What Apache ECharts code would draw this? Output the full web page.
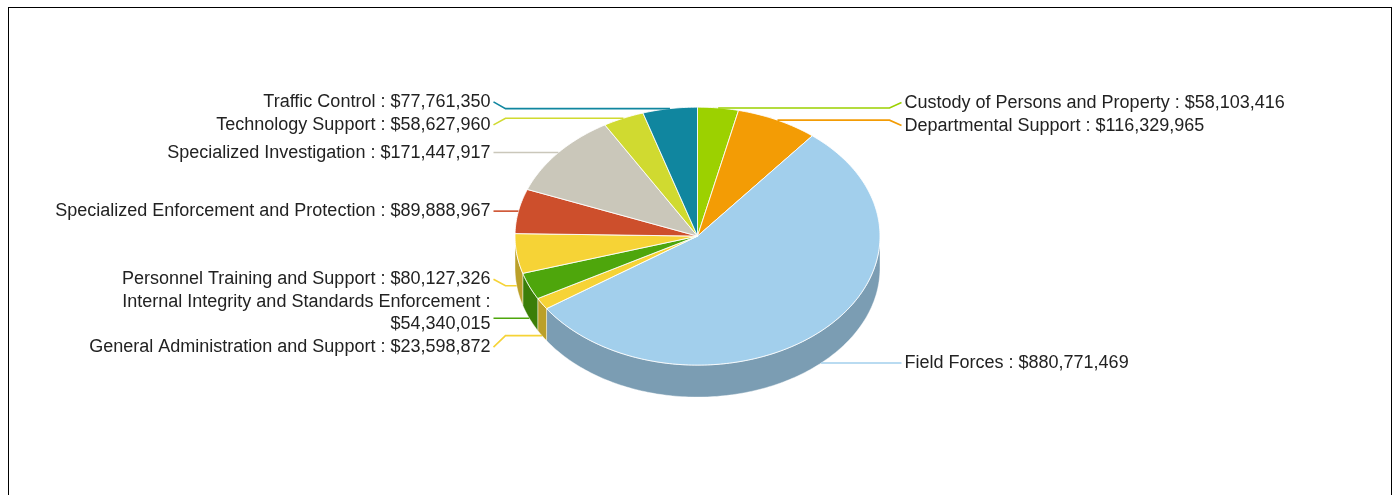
<!DOCTYPE html>
<html>
<head>
<meta charset="utf-8">
<title>Budget by Program</title>
<script src="https://cdn.jsdelivr.net/npm/echarts@6/dist/echarts.min.js"></script>
<style>
  html, body { margin: 0; padding: 0; background: #fff; overflow: hidden; }
  #frame { position: absolute; left: 8px; top: 7px; width: 1382px; height: 500px; border: 1px solid #000; }
  #chart { position: absolute; left: 0; top: 0; width: 1395px; height: 495px; }
</style>
</head>
<body>
<div id="frame"></div>
<div id="chart"></div>
<script>
// Program names, in the order the slices run clockwise from 12 o'clock
const categories = [
  'Custody of Persons and Property',
  'Departmental Support',
  'Field Forces',
  'General Administration and Support',
  'Internal Integrity and Standards Enforcement',
  'Personnel Training and Support',
  'Specialized Enforcement and Protection',
  'Specialized Investigation',
  'Technology Support',
  'Traffic Control'
];

// Budget per program, in dollars
const budgets = [
  58103416, 116329965, 880771469, 23598872, 54340015,
  80127326, 89888967, 171447917, 58627960, 77761350
];

// Slice colours
const sliceColors = [
  '#9cd100', '#f39c05', '#a2cfec', '#f6d336', '#4ea60c',
  '#f6d336', '#cd4f2c', '#cac7ba', '#d0da30', '#10869f'
];

// ---- drawing settings ----
const FONT_SIZE = 18;
const FONT_FAMILY = '"Liberation Sans", Arial, Helvetica, sans-serif';
const LINE_H = 22;
const LABEL_GAP = 1;
const LABEL_MAX_W = 445;
const TEXT_COLOR = '#222';

const chart = echarts.init(document.getElementById('chart'), null, { renderer: 'canvas' });

function shade(hex, k) {
  const n = parseInt(hex.slice(1), 16);
  const r = Math.round(((n >> 16) & 255) * k);
  const g = Math.round(((n >> 8) & 255) * k);
  const b = Math.round((n & 255) * k);
  return 'rgb(' + r + ',' + g + ',' + b + ')';
}

const measureCtx = document.createElement('canvas').getContext('2d');
measureCtx.font = FONT_SIZE + 'px ' + FONT_FAMILY;
function wrapText(text, maxW) {
  const words = text.split(' ');
  const lines = [];
  let cur = '';
  for (const w of words) {
    const t = cur ? cur + ' ' + w : w;
    if (cur && measureCtx.measureText(t).width > maxW) {
      lines.push(cur);
      cur = w;
    } else {
      cur = t;
    }
  }
  if (cur) lines.push(cur);
  return lines;
}

// Push overlapping labels on one side apart, keeping each cluster centred on its anchors
function layoutSide(items) {
  items.sort((a, b) => a.anchorY - b.anchorY);
  const place = (c) => {
    let off = 0, sum = 0;
    for (const it of c.items) { sum += it.anchorY - (off + it.h / 2); off += it.h + LABEL_GAP; }
    c.height = off - LABEL_GAP;
    c.top = sum / c.items.length;
  };
  const clusters = [];
  for (const it of items) {
    const c = { items: [it] };
    place(c);
    clusters.push(c);
    while (clusters.length > 1) {
      const prev = clusters[clusters.length - 2];
      const cur = clusters[clusters.length - 1];
      if (prev.top + prev.height + LABEL_GAP > cur.top) {
        prev.items = prev.items.concat(cur.items);
        clusters.pop();
        place(prev);
      } else break;
    }
  }
  for (const c of clusters) {
    let y = c.top;
    for (const it of c.items) { it.top = y; y += it.h + LABEL_GAP; }
  }
}

function buildGeometry(width, height) {
  const g = {
    cx: width * 0.5,
    cy: height * 0.477,
    rx: 182.5,
    ry: 129,
    depth: 32
  };
  g.pt = (deg, dy) => {
    const r = deg * Math.PI / 180;
    return [g.cx + g.rx * Math.sin(r), g.cy - g.ry * Math.cos(r) + dy];
  };
  g.arc = (a, b, dy) => {
    const pts = [];
    const n = Math.max(2, Math.ceil(Math.abs(b - a)));
    for (let k = 0; k <= n; k++) pts.push(g.pt(a + (b - a) * k / n, dy));
    return pts;
  };
  const total = budgets.reduce((s, v) => s + v, 0);
  let acc = 0;
  g.slices = budgets.map((v, i) => {
    const a = acc / total * 360;
    acc += v;
    const b = acc / total * 360;
    const mid = (a + b) / 2;
    const upper = Math.cos(mid * Math.PI / 180) >= 0;
    const anchor = g.pt(mid, upper ? 0 : g.depth);
    const right = mid < 180;
    const text = categories[i] + ' : $' + v.toLocaleString('en-US');
    const lines = wrapText(text, LABEL_MAX_W);
    return { a, b, mid, anchor, right, lines, anchorY: anchor[1], h: lines.length * LINE_H };
  });
  layoutSide(g.slices.filter(s => s.right));
  layoutSide(g.slices.filter(s => !s.right));
  return g;
}

function render() {
  const W = chart.getWidth(), H = chart.getHeight();
  const geo = buildGeometry(W, H);

  const renderItem = (params, api) => {
    const i = params.dataIndex;
    const s = geo.slices[i];
    const color = sliceColors[i];
    const children = [];

    // outer wall, visible only on the front half of the disc
    const lo = Math.max(s.a, 90), hi = Math.min(s.b, 270);
    if (hi > lo) {
      const pts = geo.arc(lo, hi, 0).concat(geo.arc(hi, lo, geo.depth));
      children.push({
        type: 'polygon', z2: 1,
        shape: { points: pts },
        style: { fill: shade(color, 0.76), stroke: 'rgba(255,255,255,0.55)', lineWidth: 0.8 }
      });
    }

    // top face
    const top = [[geo.cx, geo.cy]].concat(geo.arc(s.a, s.b, 0));
    children.push({
      type: 'polygon', z2: 5,
      shape: { points: top },
      style: { fill: color, stroke: 'rgba(255,255,255,0.85)', lineWidth: 1, lineJoin: 'round' }
    });

    // leader line and label
    const dir = s.right ? 1 : -1;
    const bendX = geo.cx + dir * (geo.rx + 9.5);
    const endX = geo.cx + dir * (geo.rx + 21.5);
    const textX = geo.cx + dir * (geo.rx + 24.5);
    const firstC = s.top + LINE_H / 2;
    const lastC = s.top + s.h - LINE_H / 2;
    const connY = Math.min(Math.max(s.anchorY, firstC), lastC);
    children.push({
      type: 'polyline', z2: 8,
      shape: { points: [s.anchor, [bendX, s.anchorY], [endX, connY]] },
      style: { stroke: color, lineWidth: 1.6, fill: null }
    });
    children.push({
      type: 'text', z2: 10,
      style: {
        text: s.lines.join('\n'),
        x: textX,
        y: s.top,
        align: s.right ? 'left' : 'right',
        verticalAlign: 'top',
        lineHeight: LINE_H,
        fontSize: FONT_SIZE,
        fontFamily: FONT_FAMILY,
        fill: TEXT_COLOR
      }
    });

    return { type: 'group', children };
  };

  chart.setOption({
    animation: false,
    series: [{
      type: 'custom',
      coordinateSystem: 'none',
      silent: true,
      data: budgets.map((v, i) => ({ name: categories[i], value: v })),
      renderItem
    }]
  }, true);
}

render();
window.addEventListener('resize', () => { chart.resize(); render(); });
</script>
</body>
</html>
